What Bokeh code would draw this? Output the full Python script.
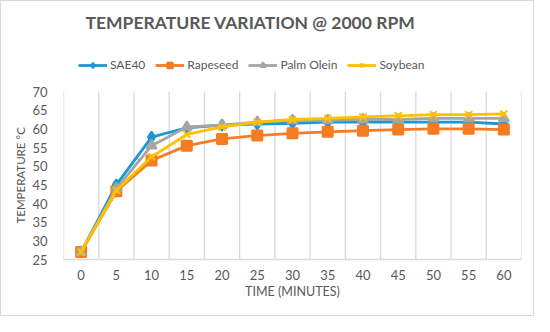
from bokeh.plotting import figure
from bokeh.models import Range1d, FixedTicker, Legend, LegendItem, Title
from bokeh.embed import file_html
from bokeh.resources import INLINE

times = [0, 5, 10, 15, 20, 25, 30, 35, 40, 45, 50, 55, 60]
sae40 = [27, 45, 57.8, 60.3, 61.0, 61.3, 61.5, 61.8, 61.8, 61.8, 61.8, 61.8, 61.3]
rapeseed = [27, 43.3, 51.5, 55.5, 57.3, 58.2, 58.8, 59.2, 59.5, 59.8, 60.0, 60.0, 59.8]
palm_olein = [27, 44.0, 55.5, 60.5, 61.0, 61.8, 62.3, 62.3, 62.5, 62.5, 62.8, 62.8, 62.8]
soybean = [27, 43.5, 52.5, 58.5, 60.5, 61.8, 62.5, 62.8, 63.2, 63.5, 63.8, 63.8, 64.0]
y_ticks = [25, 30, 35, 40, 45, 50, 55, 60, 65, 70]

FONT = "Lato"
TXT = "#595959"
Y_MIN, Y_MAX = y_ticks[0], y_ticks[-1]
HALF = (times[1] - times[0]) / 2.0

p = figure(width=534, height=316, output_backend="svg", toolbar_location=None,
           x_range=Range1d(times[0] - HALF, times[-1] + HALF), y_range=Range1d(Y_MIN, 83.4),
           min_border_left=62, min_border_right=14, min_border_bottom=58, min_border_top=40)

p.title.text = "TEMPERATURE VARIATION @  2000 RPM"
p.title.align = "left"
p.title.offset = 22
p.title.standoff = 17
p.title.text_font = FONT
p.title.text_font_size = "17.5px"
p.title.text_font_style = "bold"
p.title.text_color = TXT
p.outline_line_color = None

p.add_layout(Title(text="TEMPERATURE °C", align="left", offset=36, standoff=5,
                   text_font=FONT, text_font_size="11.5px", text_font_style="normal",
                   text_color=TXT), "left")

p.xaxis.ticker = FixedTicker(ticks=times)
p.yaxis.ticker = FixedTicker(ticks=y_ticks)
p.xaxis.axis_label = "TIME (MINUTES)"
for ax in (p.xaxis[0], p.yaxis[0]):
    ax.axis_label_text_font = FONT
    ax.axis_label_text_font_size = "12.5px"
    ax.axis_label_text_font_style = "normal"
    ax.axis_label_text_color = TXT
    ax.major_label_text_font = FONT
    ax.major_label_text_font_size = "13px"
    ax.major_label_text_color = TXT
    ax.major_tick_line_color = None
    ax.minor_tick_line_color = None
p.xaxis.axis_line_color = "#D9D9D9"
p.xaxis.axis_line_width = 1.3
p.yaxis.axis_line_color = None
p.xaxis.major_label_standoff = 4
p.yaxis.major_label_standoff = 10
p.xaxis.axis_label_standoff = 1

p.xgrid.visible = False
p.ygrid.visible = False
bounds = [t - HALF for t in times] + [times[-1] + HALF]
p.segment(x0=bounds, y0=[Y_MIN] * len(bounds), x1=bounds, y1=[Y_MAX] * len(bounds),
          line_color="#D9D9D9", line_width=1.3)

series = [
    ("SAE40", sae40, "#1B98D4", "diamond", 11),
    ("Rapeseed", rapeseed, "#F57C22", "square", 10),
    ("Palm Olein", palm_olein, "#A5A5A5", "triangle", 10),
    ("Soybean", soybean, "#FFC000", "x", 10),
]
items = []
for name, vals, col, mk, sz in series:
    r1 = p.line(times, vals, line_color=col, line_width=2.8)
    r2 = p.scatter(times, vals, marker=mk, size=sz, fill_color=col, line_color=col, line_width=2)
    items.append(LegendItem(label=name, renderers=[r1, r2]))

legend = Legend(items=items, orientation="horizontal", location=(15, 187),
                label_text_font=FONT, label_text_font_size="12px", label_text_color=TXT,
                glyph_width=29, glyph_height=14, label_standoff=3, spacing=10,
                border_line_color=None, background_fill_alpha=0,
                margin=0, padding=0)
p.add_layout(legend)

p.styles = {"border": "1px solid #D9D9D9"}

open("out.html", "w").write(file_html(p, INLINE))
